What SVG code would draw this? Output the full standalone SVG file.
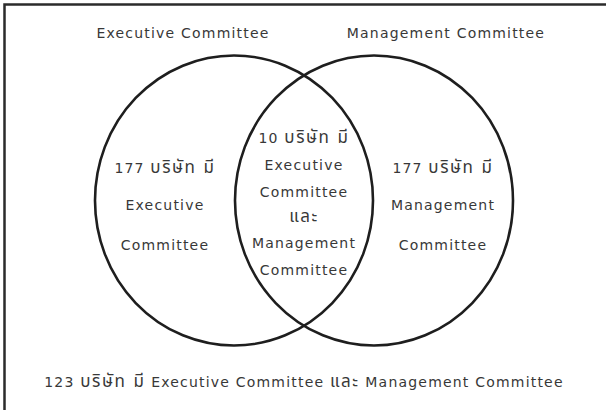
<svg xmlns="http://www.w3.org/2000/svg" width="606" height="410" viewBox="0 0 606 410">
<style>
.frame{fill:none;stroke:#2b2b2b;stroke-width:2.5}
.set{fill:none;stroke:#1e1e1e;stroke-width:2.6}
text{font-family:"DejaVu Sans","Noto Sans Thai","Noto Sans",sans-serif;font-size:14px;fill:#383838;text-anchor:middle;letter-spacing:1.2px}
.th{font-size:17px;letter-spacing:1.6px}
</style>
<rect width="606" height="410" fill="#fff"/>
<path class="frame" d="M4.5,410 V4.5 H606"/>
<g id="connectors"></g>
<g id="set-executive">
<ellipse class="set" cx="234" cy="200.5" rx="139" ry="145"/>
<text x="183" y="38">Executive Committee</text>
</g>
<g id="set-management">
<ellipse class="set" cx="374" cy="200.5" rx="139" ry="145"/>
<text x="446" y="38">Management Committee</text>
</g>
<g id="only-executive">
<text x="165" y="173">177 <tspan class="th">บริษัท มี</tspan></text>
<text x="165" y="210">Executive</text>
<text x="165" y="250">Committee</text>
</g>
<g id="both">
<text x="304" y="143">10 <tspan class="th">บริษัท มี</tspan></text>
<text x="304" y="170">Executive</text>
<text x="304" y="197">Committee</text>
<text x="304" y="222" class="th">และ</text>
<text x="304" y="248">Management</text>
<text x="304" y="275">Committee</text>
</g>
<g id="only-management">
<text x="443" y="173">177 <tspan class="th">บริษัท มี</tspan></text>
<text x="443" y="210">Management</text>
<text x="443" y="250">Committee</text>
</g>
<g id="neither">
<text x="304" y="387">123 <tspan class="th">บริษัท มี</tspan> Executive Committee <tspan class="th">และ</tspan> Management Committee</text>
</g>
</svg>
